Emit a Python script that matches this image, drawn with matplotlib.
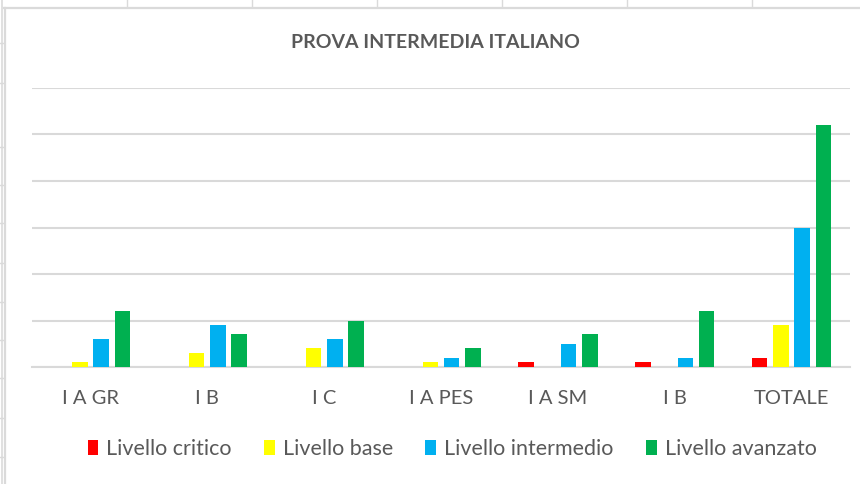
import matplotlib
matplotlib.use("Agg")
import matplotlib.pyplot as plt
from matplotlib.lines import Line2D
import numpy as np

categories = ["I A GR", "I B", "I C", "I A PES", "I A SM", "I B", "TOTALE"]
series_names = ["Livello critico", "Livello base", "Livello intermedio", "Livello avanzato"]
critico = [0, 0, 0, 0, 1, 1, 2]
base = [1, 3, 4, 1, 0, 0, 9]
intermedio = [6, 9, 6, 2, 5, 2, 30]
avanzato = [12, 7, 10, 4, 7, 12, 52]
colors = ["#FF0000", "#FFFF00", "#00B0F0", "#00B050"]

plt.rcParams['font.family'] = ['Lato', 'DejaVu Sans']
TXT = "#595959"
GRID = "#D9D9D9"

W, H = 860, 484
fig = plt.figure(figsize=(W / 100, H / 100), dpi=100)
fig.patch.set_facecolor("white")

def fx(x):
    return x / W
def fy(y):
    return 1 - y / H

bg = "#DADADA"
for xv in [127, 252, 377, 502, 627, 752]:
    fig.add_artist(Line2D([fx(xv), fx(xv)], [fy(0), fy(7)], color=bg, lw=1.0))
fig.add_artist(Line2D([fx(1.5), fx(1.5)], [fy(0), fy(484)], color=bg, lw=1.2))
for yv in [43, 83, 147, 185, 223, 263, 302, 340, 378, 418, 457]:
    fig.add_artist(Line2D([fx(0), fx(4)], [fy(yv), fy(yv)], color=bg, lw=1.0))
fig.add_artist(Line2D([fx(4), fx(860)], [fy(8), fy(8)], color=bg, lw=1.6))
fig.add_artist(Line2D([fx(5), fx(5)], [fy(8), fy(484)], color=bg, lw=1.6))

ax = fig.add_axes([32 / W, (H - 367) / H, (850 - 32) / W, (367 - 88) / H])
ax.set_facecolor("none")

x = np.arange(len(categories))
width = 0.133
pitch = 0.182
data = [critico, base, intermedio, avanzato]
handles = []
for i, (vals, c, name) in enumerate(zip(data, colors, series_names)):
    b = ax.bar(x + (i - 1.5) * pitch, vals, width=width, color=c, label=name, zorder=3)
    handles.append(b)

ax.set_xlim(-0.5, len(categories) - 0.5)
ax.set_ylim(0, 60)
ax.set_yticks(np.arange(0, 61, 10))
ax.yaxis.grid(True, color=GRID, lw=1.5, zorder=0)
ax.tick_params(axis='y', left=False, labelleft=False)
ax.set_xticks(x)
ax.set_xticklabels(categories, fontsize=14.5, color=TXT)
ax.tick_params(axis='x', bottom=False, pad=13)
for s in ["top", "right", "left"]:
    ax.spines[s].set_visible(False)
ax.spines["bottom"].set_color(GRID)
ax.spines["bottom"].set_linewidth(1.5)

fig.text(fx(435.5), fy(43), "PROVA INTERMEDIA ITALIANO", ha="center", va="center",
         fontsize=14, fontweight="bold", color=TXT)

leg = fig.legend(handles=handles, labels=series_names, loc="center",
                 bbox_to_anchor=(fx(452), fy(449)), ncol=4, frameon=False,
                 fontsize=15.5, handlelength=0.5, handleheight=0.7, handletextpad=0.37,
                 columnspacing=1.5)
for t in leg.get_texts():
    t.set_color(TXT)

fig.savefig("out.png", dpi=100, facecolor="white")
